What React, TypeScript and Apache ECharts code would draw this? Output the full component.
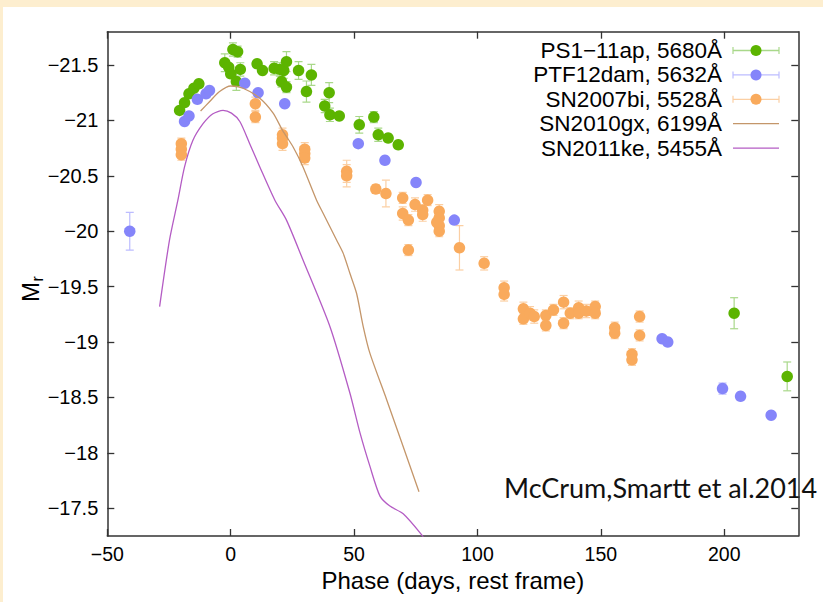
import React, { useEffect, useRef } from 'react';
import * as echarts from 'echarts';

// [phase (days), M_r, error]
const ps1_11ap: number[][] = [
  [-20.7, -21.09, 0], [-18.7, -21.16, 0], [-16.9, -21.24, 0], [-14.9, -21.29, 0], [-12.9, -21.33, 0],
  [-2.4, -21.52, 0.08], [-0.8, -21.48, 0], [0, -21.42, 0], [2.3, -21.35, 0.08], [0.9, -21.64, 0.06],
  [2.8, -21.62, 0.05], [3.9, -21.46, 0.06], [10.7, -21.51, 0], [12.9, -21.45, 0], [17.6, -21.47, 0.06],
  [19.9, -21.46, 0.06], [21.5, -21.45, 0.07], [22.6, -21.53, 0.09], [20.6, -21.35, 0.05], [22.6, -21.3, 0.05],
  [27.5, -21.45, 0.08], [30.7, -21.26, 0.095], [32.7, -21.41, 0.095], [38.1, -21.13, 0.06], [39.9, -21.25, 0.09],
  [40.2, -21.05, 0.06], [44, -21.04, 0], [52.1, -20.96, 0.075], [58, -21.03, 0.05], [59.8, -20.87, 0.06],
  [63.8, -20.84, 0], [67.9, -20.78, 0], [204, -19.26, 0.14], [225.5, -18.69, 0.13],
];
const ptf12dam: number[][] = [
  [-40.9, -20.0, 0.17], [-18.7, -20.99, 0], [-16.9, -21.04, 0], [-13.5, -21.19, 0], [-10, -21.24, 0],
  [-8.6, -21.27, 0], [5.7, -21.335, 0], [11.1, -21.25, 0], [21.9, -21.15, 0], [51.7, -20.79, 0],
  [62.5, -20.64, 0], [75.1, -20.44, 0], [90.6, -20.1, 0], [174.8, -19.03, 0], [177.1, -19.0, 0],
  [199.3, -18.58, 0.05], [206.6, -18.51, 0], [219, -18.34, 0.02],
];
const sn2007bi: number[][] = [
  [-20, -20.79, 0.05], [-20, -20.74, 0.05], [-20, -20.69, 0.05], [10, -21.15, 0.06], [10, -21.03, 0.05],
  [21, -20.87, 0.06], [21, -20.84, 0.05], [21, -20.79, 0.06], [30, -20.74, 0.06], [30, -20.7, 0.05],
  [30, -20.66, 0.06], [47, -20.54, 0.1], [47, -20.5, 0.1], [58.8, -20.38, 0.04], [62.9, -20.34, 0.12],
  [69.7, -20.3, 0.05], [69.7, -20.16, 0.06], [72, -20.1, 0.05], [74.7, -20.24, 0.06], [77.8, -20.19, 0.05],
  [77.8, -20.15, 0.06], [79.8, -20.28, 0.05], [84.5, -20.18, 0.06], [84.5, -20.12, 0.05], [84.5, -20.05, 0.05],
  [84.5, -20.0, 0.05], [83.5, -20.08, 0], [72, -19.83, 0.05], [92.7, -19.85, 0.2], [102.7, -19.71, 0.06],
  [110.8, -19.49, 0.06], [110.8, -19.43, 0.06], [118.6, -19.3, 0.06], [118.6, -19.21, 0.05], [121.3, -19.26, 0.06],
  [123, -19.23, 0.06], [127.7, -19.24, 0.05], [127.7, -19.15, 0.05], [130.8, -19.29, 0.05], [134.9, -19.36, 0.06],
  [134.9, -19.17, 0.05], [137.6, -19.26, 0.05], [141, -19.31, 0.06], [141, -19.26, 0.05], [144.1, -19.28, 0.06],
  [147.7, -19.32, 0.05], [147.7, -19.26, 0.05], [155.6, -19.13, 0.05], [155.6, -19.08, 0.05], [162.6, -18.89, 0.05],
  [162.6, -18.84, 0.05], [165.7, -19.23, 0.05], [165.7, -19.06, 0.05],
];
const sn2010gx: number[][] = [
  [-12.2, -21.085], [-8.5, -21.17], [-4.5, -21.26], [0, -21.31], [5, -21.29], [11.8, -21.2], [17.2, -21.065],
  [21, -20.91], [25.3, -20.76], [29.3, -20.58], [34.8, -20.28], [37.5, -20.16], [42.9, -19.92], [45.6, -19.8],
  [48.3, -19.62], [51, -19.44], [53.7, -19.14], [56.4, -18.9], [63.2, -18.48], [76.3, -17.65],
];
const sn2011ke: number[][] = [
  [-28.8, -19.32], [-24.8, -19.92], [-21.4, -20.28], [-18.7, -20.58], [-15.3, -20.82], [-11.2, -20.97],
  [-7.2, -21.06], [-3.1, -21.09], [0.3, -21.065], [3.7, -20.99], [7.7, -20.79], [11.8, -20.58], [17.9, -20.28],
  [22.6, -20.1], [29.3, -19.74], [40.2, -19.14], [48.3, -18.54], [52.4, -18.18], [56.4, -17.88], [60.5, -17.61],
  [64.5, -17.52], [69.9, -17.45], [77.4, -17.26], [79, -17.2],
];

const legendNames = ['PS1\u221211ap, 5680\u00c5', 'PTF12dam, 5632\u00c5', 'SN2007bi, 5528\u00c5', 'SN2010gx, 6199\u00c5', 'SN2011ke, 5455\u00c5'];
const xTicks = [-50, 0, 50, 100, 150, 200];
const yTicks = [-21.5, -21, -20.5, -20, -19.5, -19, -18.5, -18, -17.5];
const credit = 'McCrum,Smartt et al.2014';

const GREEN = '#5cb400';
const GREEN_E = '#a9d88a';
const BLUE = '#8585fa';
const BLUE_E = '#bcbcff';
const ORANGE = '#f9aa5c';
const ORANGE_E = '#fbcfa3';
const BROWN = '#c4966a';
const PURPLE = '#b45cc4';
const FONT = 'Liberation Sans, Arial, Helvetica, sans-serif';

const fmt = (v: number) => (v < 0 ? '\u2212' + String(Math.abs(v)) : String(v));

function errSeries(data: number[][], color: string) {
  return {
    type: 'custom',
    xAxisIndex: 0,
    yAxisIndex: 0,
    silent: true,
    clip: true,
    data: data.filter((d) => d[2] > 0),
    encode: { x: 0, y: 1 },
    renderItem: (_params: any, api: any) => {
      const x = api.value(0);
      const y = api.value(1);
      const e = api.value(2);
      const a = api.coord([x, y - e]);
      const b = api.coord([x, y + e]);
      const w = 4;
      const st = { stroke: color, lineWidth: 1.2, fill: null };
      return {
        type: 'group',
        children: [
          { type: 'line', shape: { x1: a[0], y1: a[1], x2: b[0], y2: b[1] }, style: st },
          { type: 'line', shape: { x1: a[0] - w, y1: a[1], x2: a[0] + w, y2: a[1] }, style: st },
          { type: 'line', shape: { x1: b[0] - w, y1: b[1], x2: b[0] + w, y2: b[1] }, style: st },
        ],
      };
    },
  };
}

function dotSeries(name: string, data: number[][], color: string) {
  return {
    type: 'scatter',
    name,
    xAxisIndex: 0,
    yAxisIndex: 0,
    symbol: 'circle',
    symbolSize: 11.5,
    itemStyle: { color, opacity: 1 },
    data: data.map((d) => [d[0], d[1]]),
  };
}

function lineSeries(name: string, data: number[][], color: string) {
  return {
    type: 'line',
    name,
    xAxisIndex: 0,
    yAxisIndex: 0,
    showSymbol: false,
    smooth: 0.25,
    clip: true,
    lineStyle: { color, width: 1.3 },
    data,
  };
}

function buildLegend() {
  const els: any[] = [];
  const colors = [
    [GREEN, GREEN_E, true],
    [BLUE, BLUE_E, true],
    [ORANGE, ORANGE_E, true],
    [BROWN, BROWN, false],
    [PURPLE, PURPLE, false],
  ] as [string, string, boolean][];
  legendNames.forEach((n, i) => {
    const y = 50.5 + 24.4 * i;
    els.push({
      type: 'text',
      x: 722,
      y,
      style: { text: n, align: 'right', verticalAlign: 'middle', fontSize: 22.5, fontFamily: FONT, fill: '#000' },
    });
    const [dot, ec, hasDot] = colors[i];
    els.push({ type: 'line', shape: { x1: 733, y1: y, x2: 779, y2: y }, style: { stroke: ec, lineWidth: 1.3 } });
    if (hasDot) {
      els.push({ type: 'line', shape: { x1: 733, y1: y - 3.5, x2: 733, y2: y + 3.5 }, style: { stroke: ec, lineWidth: 1.2 } });
      els.push({ type: 'line', shape: { x1: 779, y1: y - 3.5, x2: 779, y2: y + 3.5 }, style: { stroke: ec, lineWidth: 1.2 } });
      els.push({ type: 'circle', shape: { cx: 756, cy: y, r: 5.5 }, style: { fill: dot } });
    }
  });
  return els;
}

const axisLineStyle = { color: '#333', width: 1.5 };
const tickStyle = { color: '#333', width: 1.3 };

export default function App() {
  const ref = useRef<HTMLDivElement>(null);
  useEffect(() => {
    if (!ref.current) return;
    const chart = echarts.init(ref.current, null, { renderer: 'svg' });
    chart.setOption({
      animation: false,
      backgroundColor: '#ffffff',
      grid: { left: 107.3, right: 24.7, top: 31.7, bottom: 66, containLabel: false },
      xAxis: [
        {
          type: 'value', min: -50, max: 230, position: 'bottom',
          axisLine: { show: true, onZero: false, lineStyle: axisLineStyle },
          axisTick: { show: true, inside: true, length: 7, customValues: xTicks, lineStyle: tickStyle },
          axisLabel: { customValues: xTicks, formatter: fmt, fontSize: 19.5, color: '#000', fontFamily: FONT, margin: 8 },
          splitLine: { show: false },
          name: 'Phase (days, rest frame)', nameLocation: 'middle', nameGap: 29,
          nameTextStyle: { fontSize: 24, color: '#000', fontFamily: FONT },
        },
        {
          type: 'value', min: -50, max: 230, position: 'top',
          axisLine: { show: true, onZero: false, lineStyle: axisLineStyle },
          axisTick: { show: true, inside: true, length: 7, customValues: xTicks, lineStyle: tickStyle },
          axisLabel: { show: false },
          splitLine: { show: false },
        },
      ],
      yAxis: [
        {
          type: 'value', inverse: true, min: -21.8, max: -17.25, position: 'left',
          axisLine: { show: true, onZero: false, lineStyle: axisLineStyle },
          axisTick: { show: true, inside: true, length: 7, customValues: yTicks, lineStyle: tickStyle },
          axisLabel: { customValues: yTicks, formatter: fmt, fontSize: 20, color: '#000', fontFamily: FONT, margin: 9 },
          splitLine: { show: false },
        },
        {
          type: 'value', inverse: true, min: -21.8, max: -17.25, position: 'right',
          axisLine: { show: true, onZero: false, lineStyle: axisLineStyle },
          axisTick: { show: true, inside: true, length: 7, customValues: yTicks, lineStyle: tickStyle },
          axisLabel: { show: false },
          splitLine: { show: false },
        },
      ],
      series: [
        errSeries(ps1_11ap, GREEN_E),
        dotSeries(legendNames[0], ps1_11ap, GREEN),
        errSeries(ptf12dam, BLUE_E),
        dotSeries(legendNames[1], ptf12dam, BLUE),
        errSeries(sn2007bi, ORANGE_E),
        dotSeries(legendNames[2], sn2007bi, ORANGE),
        lineSeries(legendNames[3], sn2010gx, BROWN),
        lineSeries(legendNames[4], sn2011ke, PURPLE),
      ],
      graphic: [
        { type: 'rect', shape: { x: 0, y: 0, width: 823, height: 7 }, style: { fill: '#fdeecf' }, silent: true },
        { type: 'rect', shape: { x: 0, y: 0, width: 3, height: 602 }, style: { fill: '#fdeecf' }, silent: true },
        ...buildLegend(),
        {
          type: 'text', x: 504, y: 487,
          style: { text: credit, align: 'left', verticalAlign: 'middle', fontSize: 27, fontFamily: 'Lato, sans-serif', fill: '#111' },
        },
        {
          type: 'group', x: 30, y: 292, rotation: Math.PI / 2,
          children: [
            { type: 'text', x: 0, y: 0, style: { text: 'M', align: 'center', verticalAlign: 'middle', fontSize: 24, fontFamily: FONT, fill: '#000' } },
            { type: 'text', x: 10.5, y: 7, style: { text: 'r', align: 'left', verticalAlign: 'middle', fontSize: 16, fontFamily: FONT, fill: '#000' } },
          ],
        },
      ],
    });
    return () => chart.dispose();
  }, []);
  return <div ref={ref} style={{ position: 'fixed', left: 0, top: 0, width: 823, height: 602 }} />;
}
